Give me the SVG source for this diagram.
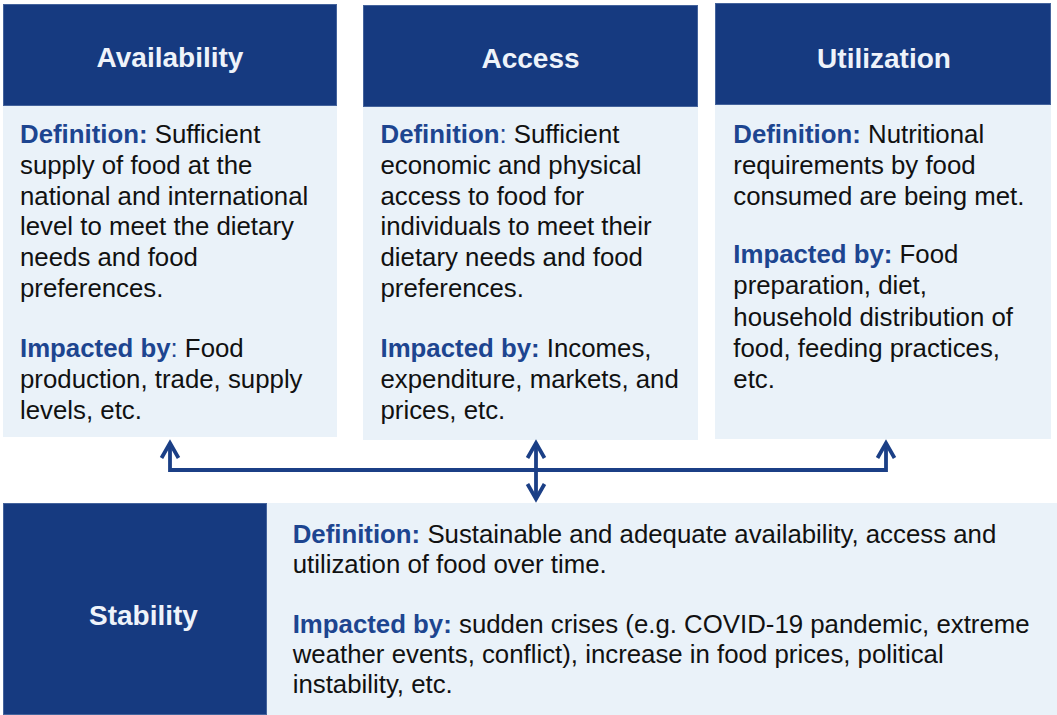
<svg xmlns="http://www.w3.org/2000/svg" width="1057" height="715" viewBox="0 0 1057 715">
  <style>
    .head { fill: #163A80; stroke: #44639C; stroke-width: 1; }
    .body { fill: #EAF2F9; }
    .title { font-family: "Liberation Sans", Arial, sans-serif; font-size: 28px; font-weight: bold; fill: #EEF3FA; text-anchor: middle; }
    .txt { font-family: "Liberation Sans", Arial, sans-serif; font-size: 25.8px; fill: #111111; }
    .lbl { font-weight: bold; fill: #1D4590; }
    .link { fill: none; stroke: #1B3F86; stroke-width: 3.8; }
  </style>
  <defs>
    <marker id="chevron" markerUnits="userSpaceOnUse" orient="auto-start-reverse" refX="0" refY="0" markerWidth="20" markerHeight="20" viewBox="-16 -10 20 20" overflow="visible">
      <path d="M-15,-8.5 L0,0 L-15,8.5" fill="none" stroke="#1B3F86" stroke-width="3.8" stroke-linejoin="miter"/>
    </marker>
  </defs>
  <rect width="1057" height="715" fill="#FFFFFF"/>

  <!-- Availability -->
  <g id="availability">
    <rect class="body" x="3" y="106" width="334" height="331"/>
    <rect class="head" x="3.5" y="4.5" width="333" height="101"/>
    <text class="title" x="170" y="67">Availability</text>
    <text class="txt">
      <tspan x="20" y="143.3"><tspan class="lbl">Definition:</tspan> Sufficient</tspan>
      <tspan x="20" y="174">supply of food at the</tspan>
      <tspan x="20" y="204.7">national and international</tspan>
      <tspan x="20" y="235.3">level to meet the dietary</tspan>
      <tspan x="20" y="266">needs and food</tspan>
      <tspan x="20" y="296.7">preferences.</tspan>
      <tspan x="20" y="357.3"><tspan class="lbl">Impacted by</tspan><tspan fill="#1D4590">:</tspan> Food</tspan>
      <tspan x="20" y="388">production, trade, supply</tspan>
      <tspan x="20" y="418.7">levels, etc.</tspan>
    </text>
  </g>

  <!-- Access -->
  <g id="access">
    <rect class="body" x="363" y="107" width="335" height="333"/>
    <rect class="head" x="363.5" y="5.5" width="334" height="101"/>
    <text class="title" x="530.5" y="68.3">Access</text>
    <text class="txt">
      <tspan x="380.5" y="143.3"><tspan class="lbl">Definition</tspan><tspan fill="#1D4590">:</tspan> Sufficient</tspan>
      <tspan x="380.5" y="174">economic and physical</tspan>
      <tspan x="380.5" y="204.7">access to food for</tspan>
      <tspan x="380.5" y="235.3">individuals to meet their</tspan>
      <tspan x="380.5" y="266">dietary needs and food</tspan>
      <tspan x="380.5" y="296.7">preferences.</tspan>
      <tspan x="380.5" y="357.3"><tspan class="lbl">Impacted by:</tspan> Incomes,</tspan>
      <tspan x="380.5" y="388">expenditure, markets, and</tspan>
      <tspan x="380.5" y="418.7">prices, etc.</tspan>
    </text>
  </g>

  <!-- Utilization -->
  <g id="utilization">
    <rect class="body" x="715" y="105" width="336" height="334"/>
    <rect class="head" x="715.5" y="3.5" width="335" height="101"/>
    <text class="title" x="884" y="68.3">Utilization</text>
    <text class="txt">
      <tspan x="733.3" y="143.3"><tspan class="lbl">Definition:</tspan> Nutritional</tspan>
      <tspan x="733.3" y="174">requirements by food</tspan>
      <tspan x="733.3" y="204.7">consumed are being met.</tspan>
      <tspan x="733.3" y="263.3"><tspan class="lbl">Impacted by:</tspan> Food</tspan>
      <tspan x="733.3" y="294.3">preparation, diet,</tspan>
      <tspan x="733.3" y="325.5">household distribution of</tspan>
      <tspan x="733.3" y="356.5">food, feeding practices,</tspan>
      <tspan x="733.3" y="387.5">etc.</tspan>
    </text>
  </g>

  <!-- Stability -->
  <g id="stability">
    <rect class="body" x="267" y="503" width="790" height="212"/>
    <rect class="head" x="3.5" y="503.5" width="263" height="211"/>
    <text class="title" x="143.5" y="625">Stability</text>
    <text class="txt">
      <tspan x="292.7" y="543.3"><tspan class="lbl">Definition:</tspan> Sustainable and adequate availability, access and</tspan>
      <tspan x="292.7" y="573.3">utilization of food over time.</tspan>
      <tspan x="292.7" y="633.3"><tspan class="lbl">Impacted by:</tspan> sudden crises (e.g. COVID-19 pandemic, extreme</tspan>
      <tspan x="292.7" y="663.3">weather events, conflict), increase in food prices, political</tspan>
      <tspan x="292.7" y="693.3">instability, etc.</tspan>
    </text>
  </g>

  <!-- Connectors -->
  <g id="connectors">
    <path class="link" d="M170,443 V470 H886 V443" marker-start="url(#chevron)" marker-end="url(#chevron)"/>
    <path class="link" d="M536,443 V499" marker-start="url(#chevron)" marker-end="url(#chevron)"/>
  </g>
</svg>
